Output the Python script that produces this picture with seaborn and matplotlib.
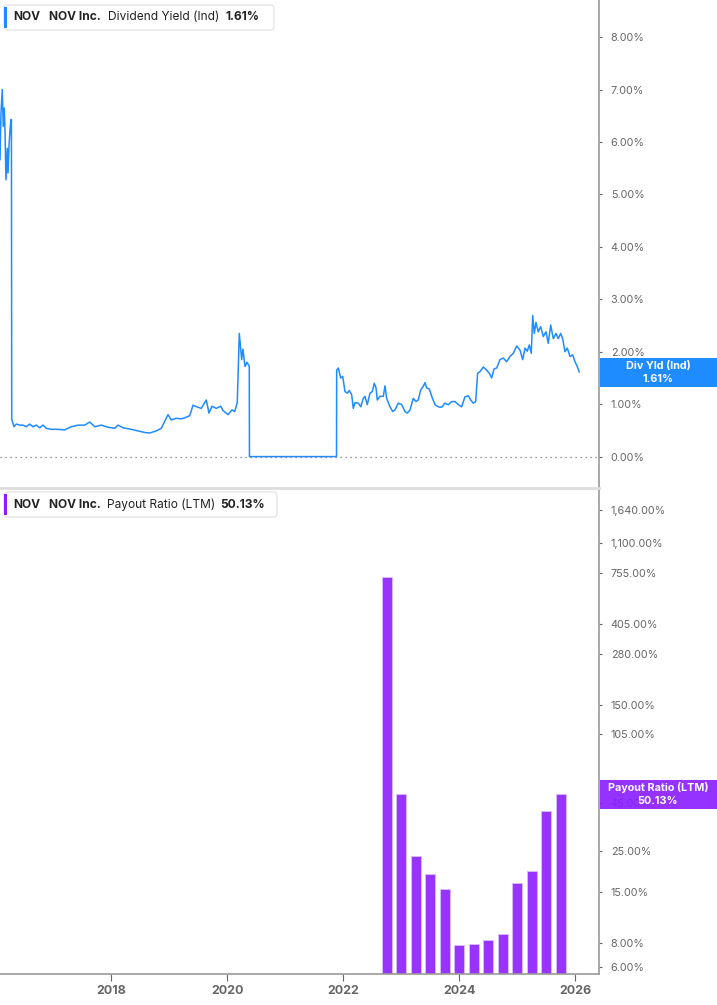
import numpy as np
import pandas as pd
import seaborn as sns
import matplotlib.pyplot as plt
from matplotlib.patches import Rectangle, FancyBboxPatch
import matplotlib.ticker as mticker

# --- data (x in decimal years, y in %) ---
yld_year = [2016.081, 2016.098, 2016.120, 2016.137, 2016.155, 2016.167, 2016.184, 2016.207,
            2016.219, 2016.236, 2016.253, 2016.270, 2016.278, 2016.283,
            2016.322, 2016.362, 2016.421, 2016.478, 2016.534, 2016.593, 2016.650, 2016.707,
            2016.766, 2016.822, 2016.879, 2016.966, 2017.081, 2017.197, 2017.310, 2017.426,
            2017.541, 2017.628, 2017.714, 2017.828, 2017.943, 2018.059, 2018.116, 2018.202,
            2018.345, 2018.460, 2018.576, 2018.662, 2018.776, 2018.862, 2018.921, 2018.978,
            2019.034, 2019.121, 2019.207, 2019.266, 2019.352, 2019.409, 2019.495, 2019.552,
            2019.638, 2019.684, 2019.736, 2019.810, 2019.886, 2019.926, 2020.012, 2020.081,
            2020.128, 2020.172, 2020.184, 2020.207, 2020.248, 2020.270, 2020.305, 2020.340,
            2020.379, 2020.382, 2021.883,
            2021.886, 2021.914, 2021.955, 2021.990, 2022.029, 2022.069, 2022.103, 2022.145,
            2022.172, 2022.202, 2022.259, 2022.300, 2022.345, 2022.374, 2022.414, 2022.460,
            2022.500, 2022.534, 2022.564, 2022.586, 2022.633, 2022.690, 2022.719, 2022.748,
            2022.805, 2022.852, 2022.891, 2022.948, 2023.007, 2023.064, 2023.103, 2023.150,
            2023.207, 2023.253, 2023.293, 2023.334, 2023.379, 2023.409, 2023.438, 2023.483,
            2023.524, 2023.581, 2023.638, 2023.697, 2023.753, 2023.810, 2023.869, 2023.926,
            2023.983, 2024.041, 2024.098, 2024.155, 2024.197, 2024.241, 2024.283, 2024.317,
            2024.357, 2024.414, 2024.472, 2024.517, 2024.559, 2024.598, 2024.645, 2024.702,
            2024.759, 2024.817, 2024.874, 2024.931, 2024.990, 2025.047, 2025.093, 2025.133,
            2025.172, 2025.207, 2025.241, 2025.266, 2025.293, 2025.322, 2025.362, 2025.403,
            2025.448, 2025.495, 2025.534, 2025.576, 2025.621, 2025.667, 2025.707, 2025.748,
            2025.783, 2025.822, 2025.862, 2025.909, 2025.955, 2025.995, 2026.034, 2026.069]
yld_pct = [5.66, 6.55, 7.00, 6.30, 6.65, 6.23, 5.28, 5.88,
           5.41, 5.92, 6.23, 6.43, 6.43, 0.72,
           0.57, 0.62, 0.60, 0.60, 0.57, 0.62, 0.57, 0.60,
           0.55, 0.60, 0.54, 0.52, 0.52, 0.51, 0.57, 0.60,
           0.60, 0.66, 0.57, 0.60, 0.56, 0.54, 0.60, 0.55,
           0.52, 0.49, 0.46, 0.45, 0.49, 0.54, 0.67, 0.80,
           0.70, 0.73, 0.72, 0.74, 0.78, 0.98, 0.94, 0.92,
           1.08, 0.83, 0.96, 0.92, 0.96, 0.88, 0.80, 0.89,
           0.86, 1.03, 1.46, 2.35, 1.85, 2.05, 1.72, 1.80,
           1.72, 0.00, 0.00,
           1.65, 1.69, 1.50, 1.53, 1.24, 1.21, 1.26, 1.18,
           0.92, 1.03, 1.02, 0.95, 1.11, 1.15, 0.99, 1.21,
           1.24, 1.40, 1.31, 1.08, 1.15, 1.15, 1.35, 1.11,
           0.95, 0.86, 0.89, 1.02, 0.99, 0.86, 0.83, 0.89,
           1.11, 1.05, 1.08, 1.27, 1.34, 1.41, 1.31, 1.29,
           1.15, 0.99, 0.95, 0.94, 1.02, 0.99, 1.05, 1.05,
           0.99, 0.95, 1.14, 1.16, 1.08, 1.02, 1.05, 1.59,
           1.62, 1.71, 1.65, 1.59, 1.50, 1.67, 1.69, 1.85,
           1.88, 1.81, 1.91, 1.97, 2.11, 2.03, 1.85, 2.07,
           2.01, 2.13, 1.97, 2.69, 2.35, 2.56, 2.38, 2.48,
           2.29, 2.38, 2.16, 2.51, 2.25, 2.35, 2.25, 2.35,
           2.25, 2.00, 2.07, 1.91, 1.94, 1.81, 1.72, 1.61]

pay_year = [2022.75, 2023.00, 2023.25, 2023.50, 2023.75, 2024.00, 2024.25,
            2024.50, 2024.75, 2025.00, 2025.25, 2025.50, 2025.75]
pay_pct = [718, 50.0, 23.4, 18.8, 15.7, 7.85, 7.95, 8.36, 9.0, 16.9, 19.5, 40.8, 50.13]

yld_ticks = [0, 1, 2, 3, 4, 5, 6, 7, 8]
pay_ticks = [6, 8, 15, 25, 45, 105, 150, 280, 405, 755, 1100, 1640]
year_ticks = [2018, 2020, 2022, 2024, 2026]

BLUE = "#1e8cff"
PURPLE = "#9933ff"
TAG_PURPLE = "#8a1cff"
GREY = "#666666"
W, H = 717, 1005

sns.set_style("white")
plt.rcParams['font.family'] = ['Inter', 'DejaVu Sans']

fig = plt.figure(figsize=(W / 100, H / 100), dpi=100)
ax1 = fig.add_axes([0, 1 - 487 / H, 599 / W, 487 / H])
ax2 = fig.add_axes([0, 1 - 974 / H, 599 / W, (974 - 488) / H])
XMIN, XMAX = 2016.081, 2026.409

# top: dividend yield
sns.lineplot(x=yld_year, y=yld_pct, ax=ax1, color=BLUE, linewidth=1.1)
ax1.axhline(0, color="#777777", linestyle=(0, (1, 3)), linewidth=0.9)
ax1.set_xlim(XMIN, XMAX)
ax1.set_ylim(-0.58, 8.71)
ax1.yaxis.tick_right()
ax1.set_yticks(yld_ticks)
ax1.set_yticklabels([f"{v:.2f}%" for v in yld_ticks])
ax1.set_xticks([])

# bottom: payout ratio (log scale)
sns.barplot(x=pay_year, y=pay_pct, ax=ax2, native_scale=True, width=0.69,
            color=PURPLE, saturation=1, edgecolor="#d9bfff", linewidth=0.6, errorbar=None)
ax2.set_yscale("log")
ax2.set_xlim(XMIN, XMAX)
ax2.set_ylim(5.5, 2148)
ax2.yaxis.tick_right()
ax2.yaxis.set_minor_locator(mticker.NullLocator())
ax2.set_yticks(pay_ticks)
ax2.set_yticklabels([f"{v:,.2f}%" for v in pay_ticks])
ax2.set_xticks(year_ticks)
ax2.set_xticklabels([str(y) for y in year_ticks], fontweight="bold")

for ax in (ax1, ax2):
    ax.set_xlabel("")
    ax.set_ylabel("")
    ax.set_facecolor("white")
    for s in ("left", "top", "bottom"):
        ax.spines[s].set_visible(False)
    ax.spines["right"].set_color("#999999")
    ax.spines["right"].set_linewidth(1.2)
    ax.tick_params(axis="y", which="both", direction="out", length=2.5, width=0.8,
                   color=GREY, labelcolor=GREY, labelsize=7.8, pad=6, right=True, left=False)

ax2.spines["top"].set_visible(True)
ax2.spines["top"].set_color("#dddddd")
ax2.spines["top"].set_linewidth(2)
ax2.spines["bottom"].set_visible(True)
ax2.spines["bottom"].set_color("#999999")
ax2.spines["bottom"].set_linewidth(1.2)
ax2.tick_params(axis="x", direction="out", length=5, width=0.8, color=GREY,
                labelcolor=GREY, labelsize=9, pad=3, bottom=True)


def fx(x):
    return x / W


def fy(y):
    return 1 - y / H


# legend boxes in the top-left corner of each panel
def legend_box(y0, y1, x1, color, pieces):
    fig.patches.append(FancyBboxPatch((fx(4), fy(y1)), fx(x1) - fx(4), fy(y0) - fy(y1),
                                      boxstyle="round,pad=0,rounding_size=0.004",
                                      transform=fig.transFigure, facecolor="white",
                                      edgecolor="#e6e6e6", linewidth=1, zorder=5))
    fig.patches.append(Rectangle((fx(4), fy(y1) + 0.002), fx(3), fy(y0) - fy(y1) - 0.004,
                                 transform=fig.transFigure, facecolor=color,
                                 edgecolor="none", zorder=6))
    yc = fy((y0 + y1) / 2)
    for x, txt, wt in pieces:
        fig.text(fx(x), yc, txt, fontsize=8.6, fontweight=wt, color="#222222",
                 va="center", ha="left", zorder=7)


legend_box(5, 30, 274, BLUE, [(13, "NOV", "bold"), (49, "NOV Inc.", "bold"),
                              (108, "Dividend Yield (Ind)", "normal"), (225, "1.61%", "bold")])
legend_box(492, 517, 277, TAG_PURPLE, [(13, "NOV", "bold"), (49, "NOV Inc.", "bold"),
                                       (107, "Payout Ratio (LTM)", "normal"), (220, "50.13%", "bold")])


# right-hand last-value tags
def value_tag(ax, value, color, line1, line2, alpha=1.0):
    ypix = ax.transData.transform((XMAX, value))[1]
    yc = ypix / H
    hh = 29 / H
    fig.patches.append(Rectangle((fx(599.5), yc - hh / 2), fx(717) - fx(599.5), hh,
                                 transform=fig.transFigure, facecolor=color, alpha=alpha,
                                 edgecolor="none", zorder=8))
    fig.text(fx(658), yc + 6.5 / H, line1, fontsize=7.8, fontweight="bold", color="white",
             ha="center", va="center", zorder=9)
    fig.text(fx(658), yc - 6.5 / H, line2, fontsize=7.8, fontweight="bold", color="white",
             ha="center", va="center", zorder=9)


value_tag(ax1, yld_pct[-1], BLUE, "Div Yld (Ind)", "1.61%")
value_tag(ax2, pay_pct[-1], TAG_PURPLE, "Payout Ratio (LTM)", "50.13%", alpha=0.9)

fig.savefig("out.png", dpi=100, facecolor="white")
